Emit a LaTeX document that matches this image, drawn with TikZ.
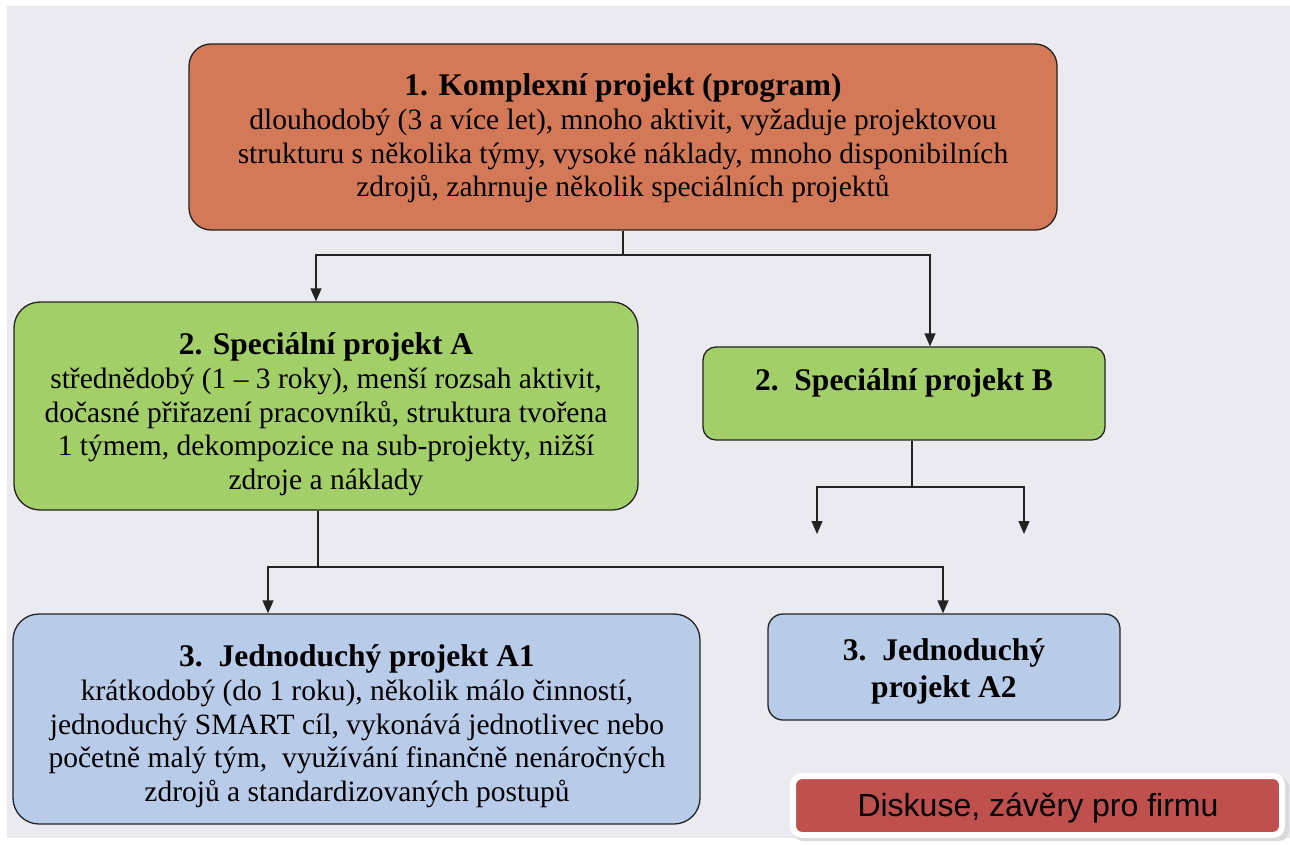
\documentclass[tikz,border=0pt]{standalone}
\usepackage{fontspec}
\setmainfont{Liberation Serif}
\newfontfamily\btnfont{Liberation Sans}
\usetikzlibrary{arrows.meta}
\definecolor{paper}{RGB}{235,234,240}
\definecolor{progfill}{RGB}{212,121,88}
\definecolor{specfill}{RGB}{163,207,104}
\definecolor{simplefill}{RGB}{184,203,232}
\definecolor{btnred}{RGB}{192,80,77}
\definecolor{edge}{RGB}{35,35,35}
\begin{document}
\begin{tikzpicture}[x=1pt,y=-1pt,
  projbox/.style={draw=edge, line width=1.3pt, inner sep=0pt},
  boxtext/.style={align=center, inner sep=0pt, font=\fontsize{29.5}{33.5}\selectfont},
  titlefont/.style={font=\bfseries\fontsize{31.5}{37}\selectfont},
  link/.style={draw=edge, line width=1.3pt},
  arr/.style={link, -{Triangle[width=11pt,length=13pt]}}]
% page and scanned sheet
\useasboundingbox (0,0) rectangle (1290,845);
\fill[white] (0,0) rectangle (1290,845);
\fill[paper] (7,6) rectangle (1290,838);

% level 1
\node[projbox, fill=progfill, rounded corners=22pt, minimum width=868pt, minimum height=186pt]
  (prog) at (623,137) {};
\node[boxtext] (progText) at (623,138)
  {{\bfseries\fontsize{31.5}{37}\selectfont 1. Komplexní projekt (program)}\\[1pt]
   dlouhodobý (3 a více let), mnoho aktivit, vyžaduje projektovou\\
   strukturu s několika týmy, vysoké náklady, mnoho disponibilních\\
   zdrojů, zahrnuje několik speciálních projektů};

% level 2
\node[projbox, fill=specfill, rounded corners=26pt, minimum width=624pt, minimum height=208pt]
  (specA) at (326,406) {};
\node[boxtext] (specAText) at (326,414)
  {{\bfseries\fontsize{31.5}{37}\selectfont 2. Speciální projekt A}\\[1pt]
   střednědobý (1 – 3 roky), menší rozsah aktivit,\\
   dočasné přiřazení pracovníků, struktura tvořena\\
   1 týmem, dekompozice na sub-projekty, nižší\\
   zdroje a náklady};
\node[projbox, fill=specfill, rounded corners=13pt, minimum width=402pt, minimum height=93pt]
  (specB) at (904,393.5) {};
\node[titlefont, inner sep=0pt] (specBText) at (904,383) {2.\ \ Speciální projekt B};

% level 3
\node[projbox, fill=simplefill, rounded corners=26pt, minimum width=687pt, minimum height=210pt]
  (simA1) at (356.5,719) {};
\node[boxtext] (simA1Text) at (357,726)
  {{\bfseries\fontsize{31.5}{37}\selectfont 3.\ \ Jednoduchý projekt A1}\\[1pt]
   krátkodobý (do 1 roku), několik málo činností,\\
   jednoduchý SMART cíl, vykonává jednotlivec nebo\\
   početně malý tým,\ \ využívání finančně nenáročných\\
   zdrojů a standardizovaných postupů};
\node[projbox, fill=simplefill, rounded corners=15pt, minimum width=352pt, minimum height=106pt]
  (simA2) at (944,667) {};
\node[titlefont, align=center, inner sep=0pt] (simA2Text) at (944,671)
  {3.\ \ Jednoduchý\\projekt A2};

% discussion button
\fill[black!15, rounded corners=10pt] (793,777) rectangle (1289,841);
\node[draw=white, line width=6pt, fill=btnred, rounded corners=9pt,
  minimum width=489pt, minimum height=59pt, inner sep=0pt]
  (disc) at (1037.5,805.5) {};
\node[inner sep=0pt, font=\btnfont\fontsize{32}{36}\selectfont]
  (discText) at (1038,808) {Diskuse, závěry pro firmu};

% connectors: program -> special projects
\coordinate (j1) at (623,255);
\coordinate (j1l) at (316,255);
\coordinate (j1r) at (930,255);
\draw[link] (prog.south) -- (j1);
\draw[arr] (j1) -- (j1l) -- (specA.north -| j1l);
\draw[arr] (j1) -- (j1r) -- (specB.north -| j1r);

% connectors: special project B -> further projects
\coordinate (j2) at (912,487);
\coordinate (j2l) at (817,487);
\coordinate (j2r) at (1024,487);
\coordinate (endl) at (817,534);
\coordinate (endr) at (1024,534);
\draw[link] (specB.south -| j2) -- (j2);
\draw[arr] (j2) -- (j2l) -- (endl);
\draw[arr] (j2) -- (j2r) -- (endr);

% connectors: special project A -> simple projects
\coordinate (j3) at (318,567);
\coordinate (j3l) at (268,567);
\coordinate (j3r) at (943,567);
\draw[link] (specA.south -| j3) -- (j3);
\draw[arr] (j3) -- (j3l) -- (simA1.north -| j3l);
\draw[arr] (j3) -- (j3r) -- (simA2.north -| j3r);
\end{tikzpicture}
\end{document}
